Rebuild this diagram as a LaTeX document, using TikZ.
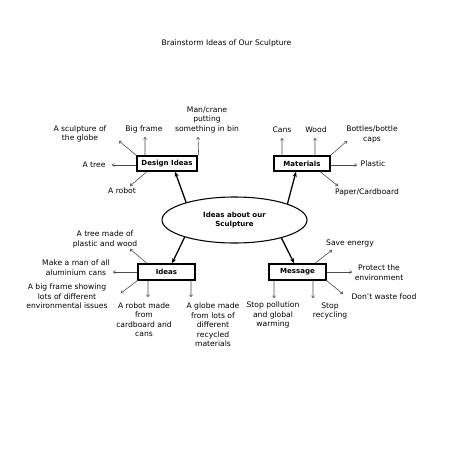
\documentclass[tikz,border=0pt]{standalone}
\usepackage{fontspec}
\setmainfont{DejaVu Sans}
\usetikzlibrary{shapes.geometric,arrows.meta}

\tikzset{
  topicbox/.style={draw, line width=1.1pt, inner sep=0pt, font=\fontsize{6}{7.5}\selectfont\bfseries},
  idea/.style={align=center, inner sep=0pt, font=\fontsize{6.5}{8.1}\selectfont},
  twig/.style={-{To[length=2.2pt,width=3pt]}, line width=0.5pt, draw=black!70},
  branch/.style={-{Stealth[length=4.5pt,width=3.5pt]}, line width=1.1pt}
}

\begin{document}
\begin{tikzpicture}[x=0.03cm,y=-0.03cm]
		\useasboundingbox (0,0) rectangle (453,453);
		\node (title) at (226.5,43)[idea]{Brainstorm Ideas of Our Sculpture} ;
		% centre and the four topics
		\node (centre) at (234.5,220)[draw, ellipse, line width=0.9pt, minimum width=4.35cm, minimum height=1.38cm, inner sep=0pt, font=\fontsize{6}{8.1}\selectfont\bfseries, align=center]{Ideas about our\\Sculpture} ;
		\node (design) at (167,163.5)[topicbox, minimum width=1.8cm, minimum height=0.45cm]{Design Ideas} ;
		\node (materials) at (302,163.5)[topicbox, minimum width=1.68cm, minimum height=0.45cm]{Materials} ;
		\node (ideas) at (166.5,272)[topicbox, minimum width=1.71cm, minimum height=0.48cm]{Ideas} ;
		\node (message) at (297.5,272)[topicbox, minimum width=1.71cm, minimum height=0.48cm]{Message} ;
		\draw[branch] (centre.160) -- ([xshift=0.24cm]design.south) ;
		\draw[branch] (centre.17) -- ([xshift=-0.18cm]materials.south) ;
		\draw[branch] (centre.199) -- ([xshift=0.165cm]ideas.north) ;
		\draw[branch] (centre.339) -- ([xshift=-0.1cm]message.north) ;
		% design ideas
		\node (globe) at (80,134)[idea]{A sculpture of\\the globe} ;
		\node (bigframe) at (144,129)[idea]{Big frame} ;
		\node (crane) at (207,120)[idea]{Man/crane\\putting\\something in bin} ;
		\node (tree) at (94,165)[idea]{A tree} ;
		\node (robot) at (122,190.5)[idea]{A robot} ;
		\coordinate (d1) at (119,141) ;
		\coordinate (d2) at (145,137) ;
		\coordinate (d3) at (198,137) ;
		\coordinate (d4) at (112,165) ;
		\coordinate (d5) at (130,186) ;
		\draw[twig] (design.north west) -- (d1) ;
		\draw[twig] ([xshift=-0.66cm]design.north) -- (d2) ;
		\draw[twig] ([xshift=0.03cm]design.north east) -- (d3) ;
		\draw[twig] ([yshift=-0.045cm]design.west) -- (d4) ;
		\draw[twig] ([xshift=-0.6cm]design.south) -- (d5) ;
		% materials
		\node (cans) at (282,130)[idea]{Cans} ;
		\node (wood) at (316,130)[idea]{Wood} ;
		\node (bottles) at (372,134.5)[idea]{Bottles/bottle\\caps} ;
		\node (plastic) at (373,164)[idea]{Plastic} ;
		\node (paper) at (367,192)[idea]{Paper/Cardboard} ;
		\coordinate (m1) at (282,138) ;
		\coordinate (m2) at (315,138) ;
		\coordinate (m3) at (347,141) ;
		\coordinate (m4) at (357,165) ;
		\coordinate (m5) at (338,186) ;
		\draw[twig] ([xshift=-0.6cm]materials.north) -- (m1) ;
		\draw[twig] ([xshift=0.39cm]materials.north) -- (m2) ;
		\draw[twig] (materials.north east) -- (m3) ;
		\draw[twig] ([yshift=-0.045cm]materials.east) -- (m4) ;
		\draw[twig] ([xshift=0.54cm]materials.south) -- (m5) ;
		% ideas
		\node (treemade) at (105,239.5)[idea]{A tree made of\\plastic and wood} ;
		\node (aluman) at (76,267.5)[idea]{Make a man of all\\aluminium cans} ;
		\node (bigshow) at (67,296.5)[idea]{A big frame showing\\lots of different\\environmental issues} ;
		\node (robotmade) at (144,319.5)[idea]{A robot made\\from\\cardboard and\\cans} ;
		\node (globemade) at (213,325)[idea]{A globe made\\from lots of\\different\\recycled\\materials} ;
		\coordinate (i1) at (130,249) ;
		\coordinate (i2) at (113,272) ;
		\coordinate (i3) at (121,293) ;
		\coordinate (i4) at (148,297) ;
		\coordinate (i5) at (191,297) ;
		\draw[twig] ([xshift=-0.585cm]ideas.north) -- (i1) ;
		\draw[twig] (ideas.west) -- (i2) ;
		\draw[twig] (ideas.south west) -- (i3) ;
		\draw[twig] ([xshift=-0.555cm]ideas.south) -- (i4) ;
		\draw[twig] ([xshift=0.735cm]ideas.south) -- (i5) ;
		% message
		\node (energy) at (350,243)[idea]{Save energy} ;
		\node (protect) at (379,272.5)[idea]{Protect the\\environment} ;
		\node (waste) at (384,297)[idea]{Don't waste food} ;
		\node (pollution) at (273,315)[idea]{Stop pollution\\and global\\warming} ;
		\node (recycling) at (330,311)[idea]{Stop\\recycling} ;
		\coordinate (g1) at (332,250) ;
		\coordinate (g2) at (352,272) ;
		\coordinate (g3) at (343,294) ;
		\coordinate (g4) at (274,298) ;
		\coordinate (g5) at (313,298) ;
		\draw[twig] ([xshift=0.525cm]message.north) -- (g1) ;
		\draw[twig] (message.east) -- (g2) ;
		\draw[twig] (message.south east) -- (g3) ;
		\draw[twig] ([xshift=-0.705cm]message.south) -- (g4) ;
		\draw[twig] ([xshift=0.465cm]message.south) -- (g5) ;
\end{tikzpicture}
\end{document}
